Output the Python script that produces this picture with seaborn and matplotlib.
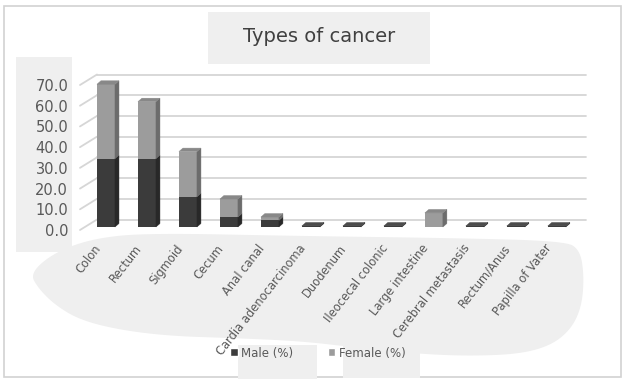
import numpy as np
import pandas as pd
import matplotlib
matplotlib.use("Agg")
import matplotlib.pyplot as plt
import seaborn as sns
from matplotlib.patches import Polygon, Rectangle, Patch
from matplotlib.lines import Line2D
from matplotlib.transforms import ScaledTranslation, IdentityTransform

# ---- data -------------------------------------------------------------
categories = ["Colon", "Rectum", "Sigmoid", "Cecum", "Anal canal",
              "Cardia adenocarcinoma", "Duodenum", "Ileocecal colonic",
              "Large intestine", "Cerebral metastasis", "Rectum/Anus",
              "Papilla of Vater"]
male_pct = [33.0, 33.0, 14.6, 4.8, 3.2, 0.5, 0.5, 0.5, 0.0, 0.5, 0.5, 0.5]
female_pct = [35.9, 27.5, 21.8, 8.7, 1.6, 0.0, 0.0, 0.0, 6.8, 0.0, 0.0, 0.0]
y_ticks = [0, 10, 20, 30, 40, 50, 60, 70]
series_labels = ["Male (%)", "Female (%)"]
title = "Types of cancer"

# ---- style ------------------------------------------------------------
sns.set_theme(style="white")
plt.rcParams["font.family"] = ["DejaVu Sans"]

MALE = "#3b3b3b"
MALE_SIDE = "#282828"
MALE_TOP = "#4c4c4c"
FEMALE = "#9c9c9c"
FEMALE_SIDE = "#6c6c6c"
FEMALE_TOP = "#888888"
PANEL = "#efefef"
GRID = "#d6d6d6"
TEXT = "#595959"

W, H, DPI = 625, 382, 100
fig = plt.figure(figsize=(W / DPI, H / DPI), dpi=DPI)
fig.patch.set_facecolor("white")

# backdrop layer in pixel units (y grows downwards)
bg = fig.add_axes([0, 0, 1, 1], zorder=0)
bg.set_xlim(0, W)
bg.set_ylim(H, 0)
bg.axis("off")

bg.add_patch(Rectangle((4, 6), 617, 371, fill=False, edgecolor="#d2d2d2", lw=1.2))
bg.add_patch(Rectangle((16, 57), 56, 195, facecolor=PANEL, edgecolor="none"))
bg.add_patch(Rectangle((208, 12), 222, 52, facecolor=PANEL, edgecolor="none"))
bg.add_patch(Rectangle((238, 345), 79, 34, facecolor=PANEL, edgecolor="none"))
bg.add_patch(Rectangle((343, 345), 77, 33, facecolor=PANEL, edgecolor="none"))


def chaikin(pts, n=3):
    pts = np.asarray(pts, float)
    for _ in range(n):
        nxt = np.roll(pts, -1, axis=0)
        q = 0.75 * pts + 0.25 * nxt
        r = 0.25 * pts + 0.75 * nxt
        pts = np.empty((len(q) * 2, 2))
        pts[0::2] = q
        pts[1::2] = r
    return pts


blob = [(30, 273), (55, 252), (95, 238), (150, 233), (300, 236), (450, 238),
        (565, 241), (580, 250), (584, 275), (582, 305), (572, 328), (552, 345),
        (520, 354), (470, 356), (420, 354), (360, 348), (300, 341), (230, 338),
        (170, 336), (120, 330), (80, 320), (55, 305), (38, 288)]
bg.add_patch(Polygon(chaikin(blob), closed=True, facecolor=PANEL, edgecolor="none"))

bg.text(319, 37, title, fontsize=14, color="#404040", ha="center", va="center")

# ---- main axes (front edge of the floor) ------------------------------
ax = fig.add_axes([80 / W, (H - 230) / H, 489 / W, 145 / H], zorder=1)
ax.set_facecolor("none")

df = pd.DataFrame({"category": categories, "male": male_pct, "female": female_pct})
df["total"] = df["male"] + df["female"]

sns.barplot(data=df, x="category", y="total", color=FEMALE, width=0.44,
            saturation=1, errorbar=None, linewidth=0, ax=ax)
sns.barplot(data=df, x="category", y="male", color=MALE, width=0.44,
            saturation=1, errorbar=None, linewidth=0, ax=ax)

ax.set_xlim(-0.56, 11.37)
ax.set_ylim(0, 70)
ax.set_xlabel("")
ax.set_ylabel("")
ax.grid(False)
for s in ax.spines.values():
    s.set_visible(False)
ax.set_xticks([])
ax.set_yticks(y_ticks)
ax.set_yticklabels([f"{v:.1f}" for v in y_ticks], fontsize=10.5, color=TEXT)
ax.tick_params(axis="y", length=0, pad=8.5)

# 3D geometry, in pixels (x right, y up)
bar_shift = np.array([3.0, 3.0])
depth = np.array([4.0, 3.5])
wall = np.array([17.0, 10.5])
ident = IdentityTransform()
shift_t = ScaledTranslation(bar_shift[0] / DPI, bar_shift[1] / DPI, fig.dpi_scale_trans)


def disp(x, y):
    return ax.transData.transform((x, y))


# back wall gridlines and side-wall diagonals
x_lo, x_hi = ax.get_xlim()
for v in y_ticks:
    a = disp(x_lo, v)
    b = disp(x_hi, v)
    ax.add_line(Line2D([a[0] + wall[0], b[0] + wall[0]], [a[1] + wall[1], b[1] + wall[1]],
                       transform=ident, color=GRID, lw=1.3, clip_on=False, zorder=0.5))
    ax.add_line(Line2D([a[0], a[0] + wall[0]], [a[1], a[1] + wall[1]],
                       transform=ident, color=GRID, lw=1.3, clip_on=False, zorder=0.5))

# front faces: shift seaborn bars to the middle of the floor depth
for p in ax.patches:
    p.set_transform(p.get_data_transform() + shift_t)
    p.set_clip_on(False)
    p.set_zorder(2)

total_bars = ax.containers[0]
male_bars = ax.containers[1]


def face(pts, color):
    ax.add_patch(Polygon(np.array(pts), closed=True, transform=ident, facecolor=color,
                         edgecolor=color, lw=0.3, clip_on=False, zorder=2))


for i, (tb, mb) in enumerate(zip(total_bars, male_bars)):
    x0 = tb.get_x()
    x1 = x0 + tb.get_width()
    ym = mb.get_height()
    yt = tb.get_height()
    d = lambda x, y: disp(x, y) + bar_shift
    # side faces
    if ym > 0:
        face([d(x1, 0), d(x1, ym), d(x1, ym) + depth, d(x1, 0) + depth], MALE_SIDE)
    if yt > ym:
        face([d(x1, ym), d(x1, yt), d(x1, yt) + depth, d(x1, ym) + depth], FEMALE_SIDE)
    # top face
    top_col = FEMALE_TOP if yt > ym else MALE_TOP
    face([d(x0, yt), d(x1, yt), d(x1, yt) + depth, d(x0, yt) + depth], top_col)

# category labels
lab_t = ax.transData + ScaledTranslation(-4.5 / DPI, -16 / DPI, fig.dpi_scale_trans)
for i, cat in enumerate(categories):
    ax.text(i, 0, cat, transform=lab_t, rotation=52, rotation_mode="anchor",
            ha="right", va="center", fontsize=8.3, color=TEXT, clip_on=False)

# legend
handles = [Patch(facecolor=MALE, label=series_labels[0]),
           Patch(facecolor=FEMALE, label=series_labels[1])]
ax.legend(handles=handles, loc="center", bbox_to_anchor=(318 / W, 1 - 353 / H),
          bbox_transform=fig.transFigure, ncol=2, frameon=False, fontsize=8.5,
          handlelength=0.65, handleheight=0.65, handletextpad=0.3,
          columnspacing=2.9, labelcolor=TEXT, borderpad=0)

fig.savefig("out.png", dpi=DPI, facecolor="white")
